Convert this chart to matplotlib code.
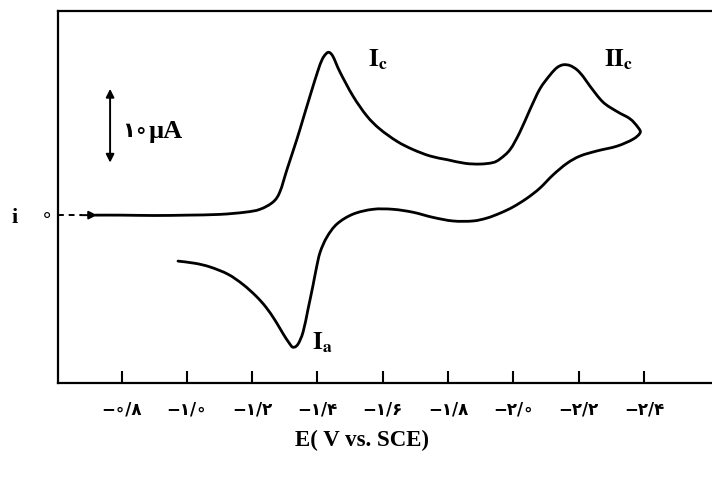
import matplotlib
matplotlib.use("Agg")
import matplotlib.pyplot as plt
from matplotlib.path import Path
from matplotlib.patches import PathPatch
import numpy as np

plt.rcParams['mathtext.fontset'] = 'stix'

# forward (cathodic) sweep, E in V vs SCE, i in uA
e_fwd = [-0.72, -0.80, -0.90, -1.00, -1.10, -1.178, -1.224, -1.264, -1.285, -1.307,
         -1.337, -1.356, -1.377, -1.400, -1.414, -1.426, -1.436, -1.448, -1.469, -1.509,
         -1.551, -1.591, -1.644, -1.692, -1.745, -1.797, -1.852, -1.898, -1.937, -1.959,
         -1.990, -2.020, -2.051, -2.081, -2.112, -2.133, -2.152, -2.173, -2.195, -2.215,
         -2.234, -2.274, -2.317, -2.357, -2.381, -2.388]
i_fwd = [0.0, 0.0, -0.05, 0.0, 0.1, 0.4, 0.8, 1.8, 3.2, 6.3,
         10.4, 13.2, 16.3, 19.6, 21.3, 22.1, 22.3, 21.7, 19.6, 16.3,
         13.6, 11.8, 10.1, 9.0, 8.1, 7.6, 7.1, 7.0, 7.2, 7.7,
         9.0, 11.4, 14.5, 17.3, 19.2, 20.2, 20.6, 20.5, 19.9, 18.9,
         17.7, 15.5, 14.2, 13.2, 12.05, 11.3]

# reverse (anodic) sweep
e_rev = [-2.388, -2.366, -2.317, -2.256, -2.204, -2.164, -2.121, -2.081, -2.041, -1.998,
         -1.959, -1.919, -1.876, -1.815, -1.753, -1.692, -1.631, -1.570, -1.509, -1.460,
         -1.429, -1.408, -1.396, -1.386, -1.371, -1.356, -1.340, -1.325, -1.313, -1.294,
         -1.270, -1.242, -1.212, -1.172, -1.126, -1.071, -1.025, -0.973]
i_rev = [11.3, 10.4, 9.45, 8.8, 8.1, 7.1, 5.5, 3.7, 2.3, 1.1,
         0.27, -0.4, -0.8, -0.8, -0.3, 0.4, 0.8, 0.8, 0.14, -1.2,
         -3.0, -5.1, -7.4, -9.7, -12.9, -16.0, -17.7, -18.1, -17.5, -16.2,
         -14.4, -12.6, -11.1, -9.5, -8.1, -7.1, -6.6, -6.3]

tick_vals = [-0.8, -1.0, -1.2, -1.4, -1.6, -1.8, -2.0, -2.2, -2.4]
tick_labels = ['−∘/۸', '−۱/∘', '−۱/۲', '−۱/۴', '−۱/۶', '−۱/۸', '−۲/∘', '−۲/۲', '−۲/۴']


def smooth_path(xs, ys):
    # Catmull-Rom through the read points, drawn as cubic Bezier segments
    pts = np.column_stack([xs, ys])
    verts = [pts[0]]
    codes = [Path.MOVETO]
    n = len(pts)
    for k in range(n - 1):
        p0 = pts[k - 1] if k > 0 else pts[k]
        p1, p2 = pts[k], pts[k + 1]
        p3 = pts[k + 2] if k + 2 < n else pts[k + 1]
        verts += [p1 + (p2 - p0) / 6, p2 - (p3 - p1) / 6, p2]
        codes += [Path.CURVE4] * 3
    return Path(verts, codes)


fig = plt.figure(figsize=(7.12, 4.81), dpi=100)
ax = fig.add_axes([0.0815, 0.2017, 0.9185, 0.773])

cv_e = e_fwd + e_rev[1:]
cv_i = i_fwd + i_rev[1:]
ax.add_patch(PathPatch(smooth_path(cv_e, cv_i), fill=False, edgecolor='black',
                       lw=2.0, capstyle='round', joinstyle='round'))

# start marker: short dashes + arrow
ax.plot([-0.607, -0.68], [0, 0], color='black', lw=1.4, ls=(0, (3, 2.5)))
ax.annotate('', xy=(-0.725, 0), xytext=(-0.675, 0),
            arrowprops=dict(arrowstyle='-|>', color='black', lw=1.4,
                            mutation_scale=12, shrinkA=0, shrinkB=0))

# 10 uA scale bar
ax.annotate('', xy=(-0.765, 17.3), xytext=(-0.765, 7.2),
            arrowprops=dict(arrowstyle='<|-|>', color='black', lw=1.4,
                            mutation_scale=12, shrinkA=0, shrinkB=0))
ax.text(-0.803, 11.6, '۱∘', fontsize=15, va='center', ha='left',
        family='DejaVu Sans', weight='bold')
ax.text(-0.884, 11.6, 'µA', fontsize=19, va='center', ha='left',
        family='Liberation Serif', weight='bold')

# peak labels
ax.text(-1.585, 21.4, r'$\mathbf{I}_{\mathbf{c}}$', fontsize=18, ha='center', va='center')
ax.text(-2.323, 21.4, r'$\mathbf{II}_{\mathbf{c}}$', fontsize=18, ha='center', va='center')
ax.text(-1.415, -17.4, r'$\mathbf{I}_{\mathbf{a}}$', fontsize=18, ha='center', va='center')

# y label and zero mark outside the frame
ax.text(-0.474, -0.2, 'i', fontsize=16, ha='center', va='center',
        family='Liberation Serif', weight='bold', clip_on=False)
ax.text(-0.572, 0.1, '∘', fontsize=14, ha='center', va='center',
        family='DejaVu Sans', clip_on=False)

ax.set_xlim(-0.6056, -2.608)
ax.set_ylim(-23.0, 27.95)
ax.set_yticks([])
ax.set_xticks(tick_vals)
ax.set_xticklabels(tick_labels, fontsize=12, family='DejaVu Sans', weight='bold')
ax.tick_params(axis='x', direction='in', length=9, width=1.5, pad=12)
ax.spines['right'].set_visible(False)
for s in ['left', 'top', 'bottom']:
    ax.spines[s].set_linewidth(1.6)

fig.text(362 / 712, 1 - 440 / 481, 'E( V vs. SCE)', ha='center', va='center',
         fontsize=16.5, family='Liberation Serif', weight='bold')

fig.savefig('out.png', dpi=100)
